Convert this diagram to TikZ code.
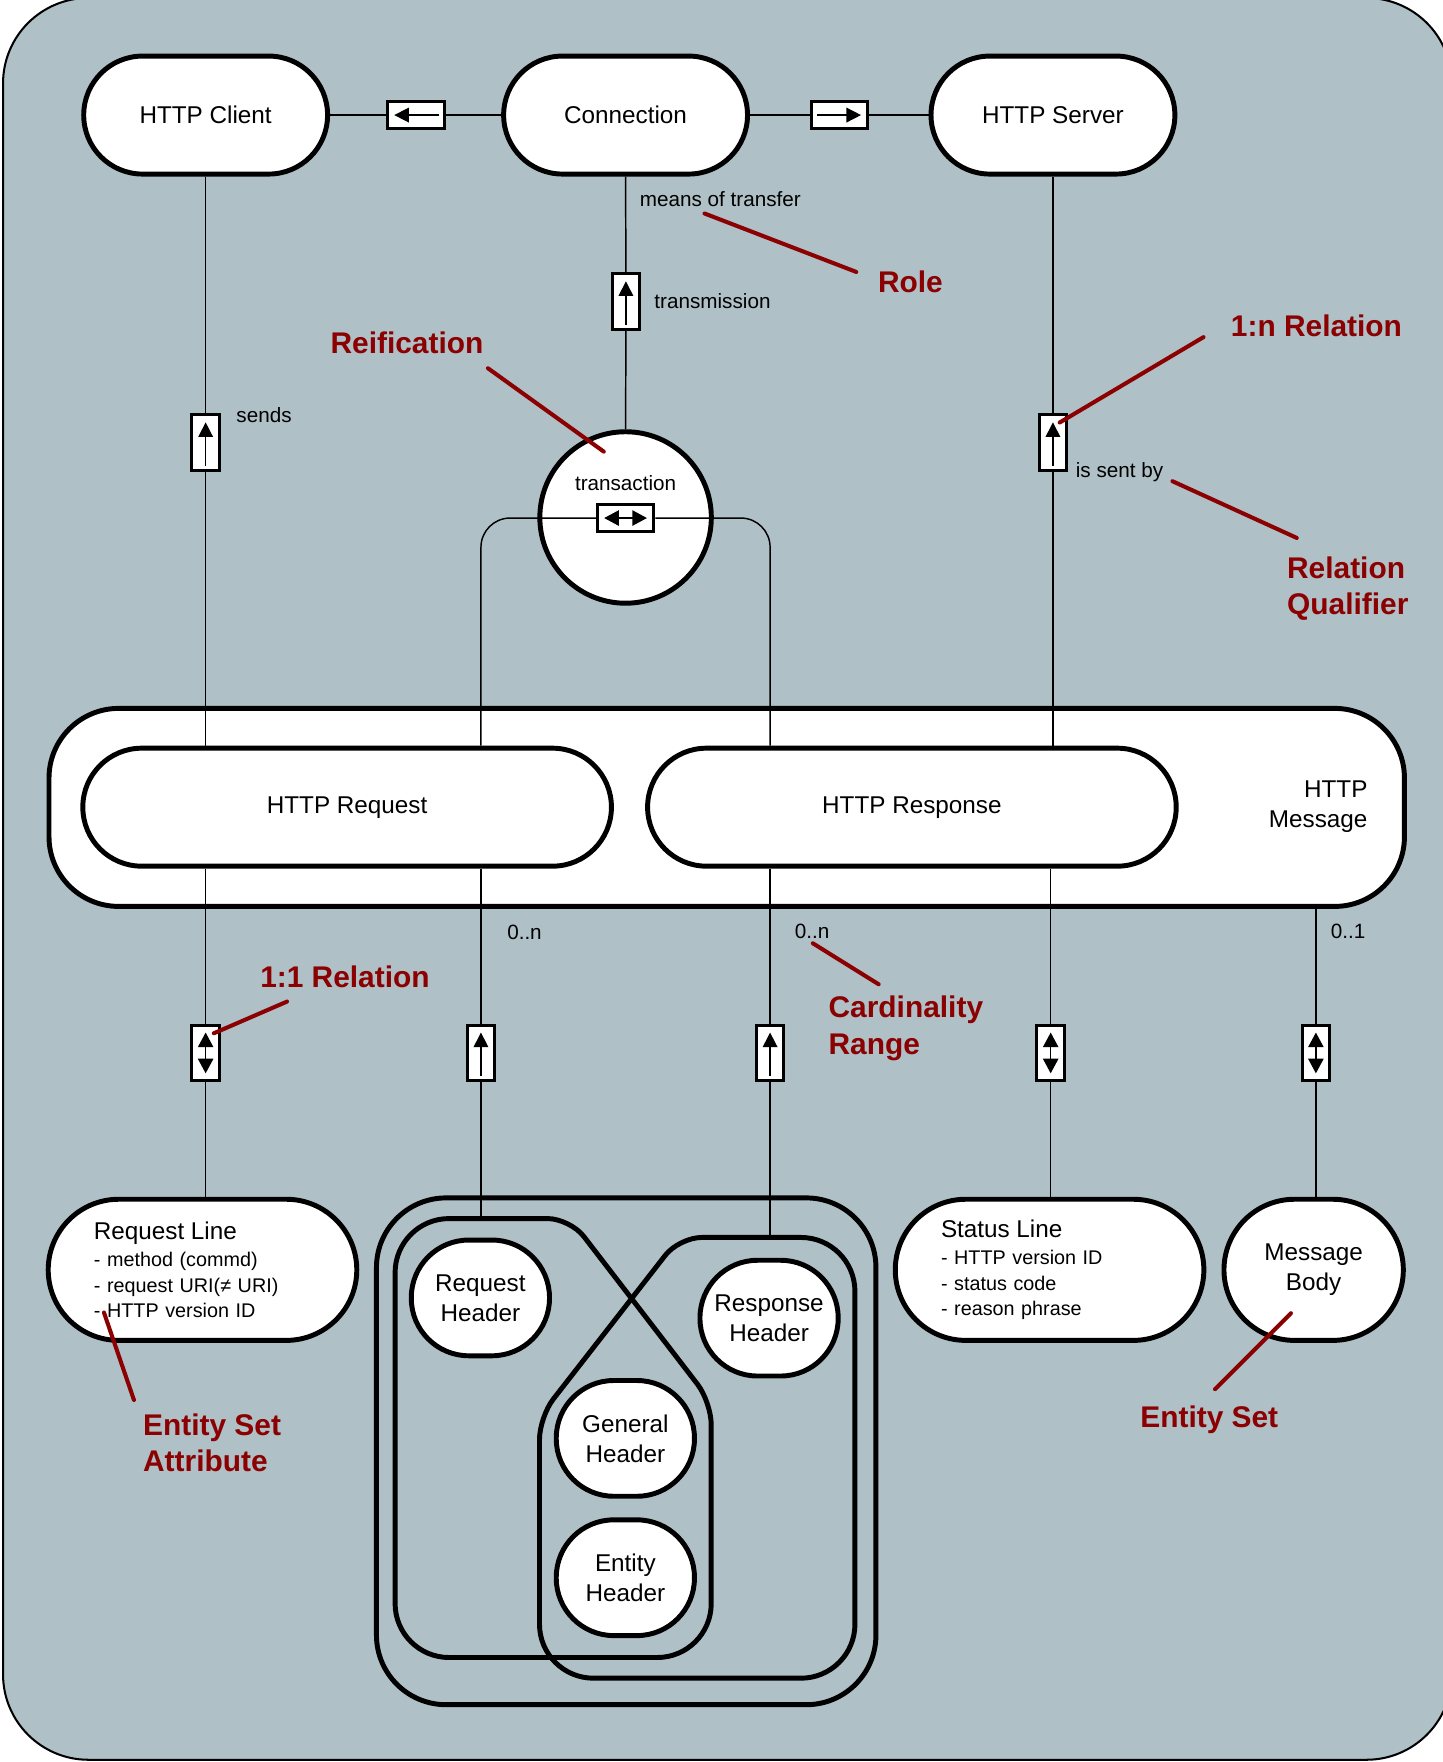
\documentclass[tikz,border=0pt]{standalone}
\usepackage{fontspec}
\setmainfont{Liberation Sans}
\usetikzlibrary{arrows.meta,calc}
\definecolor{bgc}{RGB}{175,192,199}
\definecolor{annot}{RGB}{139,0,0}
\begin{document}
\begin{tikzpicture}[x=0.5pt,y=-0.5pt,
  ent/.style={draw, line width=2.2pt, fill=white, rounded corners=26.2pt,
    minimum width=108.5pt, minimum height=52.5pt, inner sep=0pt, align=center,
    font=\fontsize{10.8}{13.4}\selectfont},
  hdr/.style={draw, line width=2.2pt, fill=white, rounded corners=25.6pt,
    minimum width=61.5pt, minimum height=51.5pt, inner sep=0pt, align=center,
    font=\fontsize{10.8}{13.4}\selectfont},
  attrbox/.style={ent, minimum width=137.3pt, minimum height=62.8pt, rounded corners=31.4pt,
    text width=96.6pt, inner xsep=20.35pt, inner ysep=0pt, align=left,
    font=\fontsize{8.8}{11.2}\selectfont},
  hbox/.style={draw, line width=1.35pt, fill=white, minimum width=25.2pt, minimum height=12.3pt, inner sep=0pt},
  vbox/.style={draw, line width=1.35pt, fill=white, minimum width=12.3pt, minimum height=24.8pt, inner sep=0pt},
  grp/.style={draw, line width=2.2pt},
  wire/.style={draw, line width=0.65pt},
  arr/.style={line width=0.65pt, -{Triangle[length=6.5pt,width=6.5pt]}},
  darr/.style={line width=0.65pt, {Triangle[length=6.5pt,width=6.8pt]}-{Triangle[length=6.5pt,width=6.8pt]}},
  lbl/.style={inner sep=0pt, font=\fontsize{9.2}{11}\selectfont},
  note/.style={inner sep=0pt, text=annot, align=left, font=\bfseries\fontsize{13.3}{16.2}\selectfont},
  nline/.style={draw=annot, line width=1.8pt, line cap=round}]
\useasboundingbox (0,0) rectangle (1284,1568);
% background
\draw[fill=bgc, line width=0.9pt, rounded corners=38pt] (2.7,-1.8) rectangle (1292,1566);

% HTTP Message container
\node[ent, minimum width=603.1pt, minimum height=88.1pt, rounded corners=31pt] (msg) at (646.7,718.5) {};
\node[anchor=east, align=right, inner sep=0pt, font=\fontsize{10.8}{13.4}\selectfont] (msgl) at (1217.3,718) {HTTP\\Message};

% top entities
\node[ent] (client) at (183,102.4) {HTTP Client};
\node[ent] (conn) at (556.7,102.4) {Connection};
\node[ent] (server) at (937,102.4) {HTTP Server};

\node[hbox] (bCC) at (370.4,102.4) {};
\node[hbox] (bCS) at (747,102.4) {};
\node[vbox] (bTr) at (557,268.5) {};
\node[vbox] (bSends) at (183,394) {};
\node[vbox] (bSent) at (937,394) {};

% transaction
\node[circle, draw, line width=2.2pt, fill=white, minimum size=76.3pt, inner sep=0pt] (trans) at (556.7,460.5) {};
\node[lbl] (transl) at (556.7,430) {transaction};
\node[hbox] (bTx) at (556.7,461) {};

% request / response
\node[ent, minimum width=235.2pt] (req) at (308.9,718.3) {HTTP Request};
\node[ent, minimum width=235.2pt] (resp) at (811.5,718.3) {HTTP Response};

% bottom boxes
\node[vbox] (b1) at (183,937) {};
\node[vbox] (b2) at (428,937) {};
\node[vbox] (b3) at (685.3,937) {};
\node[vbox] (b4) at (935,937) {};
\node[vbox] (b5) at (1171,937) {};

% bottom entities
\node[attrbox] (reqline) at (180.2,1130) {{\fontsize{10.8}{12}\selectfont Request Line}\\[0.8pt]- method (commd)\\- request URI(≠ URI)\\- HTTP version ID};
\node[attrbox] (statline) at (934,1130) {{\fontsize{10.8}{12}\selectfont Status Line}\\[0.8pt]- HTTP version ID\\- status code\\- reason phrase};
\node[ent, minimum width=79.8pt, minimum height=62.8pt, rounded corners=31.4pt] (body) at (1169,1130) {Message\\Body};

% header sets
\draw[grp, rounded corners=31pt] (335,1066) rectangle (779.5,1517);
\draw[grp] (351.6,1300) [rounded corners=24pt] -- (351.6,1084.4) [rounded corners=10pt] -- (507.3,1084.4) -- (632.9,1247.7) [rounded corners=24pt] -- (632.9,1475) -- (351.6,1475) -- cycle;
\draw[grp] (760.8,1300) [rounded corners=24pt] -- (760.8,1101.2) [rounded corners=10pt] -- (604.4,1101.2) -- (480.1,1260.8) [rounded corners=24pt] -- (480.1,1493.4) -- (760.8,1493.4) -- cycle;
\coordinate (gA) at (428,1084.4);
\coordinate (gB) at (685.3,1101.2);

\node[hdr] (reqh) at (427.5,1155) {Request\\Header};
\node[hdr] (resph) at (684.4,1173) {Response\\Header};
\node[hdr] (genh) at (556.5,1280) {General\\Header};
\node[hdr] (enth) at (556.5,1404) {Entity\\Header};

% connectors
\draw[wire] (client.east) -- (bCC.west);
\draw[wire] (bCC.east) -- (conn.west);
\draw[wire] (conn.east) -- (bCS.west);
\draw[wire] (bCS.east) -- (server.west);
\draw[wire] (conn.south) -- (bTr.north);
\draw[wire] (bTr.south) -- (trans.north);
\draw[wire] (client.south) -- (bSends.north);
\draw[wire] (bSends.south) -- (bSends.south |- req.north);
\draw[wire] (server.south) -- (bSent.north);
\draw[wire] (bSent.south) -- (bSent.south |- resp.north);
\draw[wire, rounded corners=13pt] (bTx.west) -| (gA |- req.north);
\draw[wire, rounded corners=13pt] (bTx.east) -| (gB |- resp.north);
\draw[wire] (b1.north |- req.south) -- (b1.north);
\draw[wire] (b1.south) -- (b1.south |- reqline.north);
\draw[wire] (gA |- req.south) -- (b2.north);
\draw[wire] (b2.south) -- (gA);
\draw[wire] (gB |- resp.south) -- (b3.north);
\draw[wire] (b3.south) -- (gB);
\draw[wire] (b4.north |- resp.south) -- (b4.north);
\draw[wire] (b4.south) -- (b4.south |- statline.north);
\draw[wire] (b5.north |- msg.south) -- (b5.north);
\draw[wire] (b5.south) -- (b5.south |- body.north);

% arrows inside boxes
\draw[arr] ($(bCC.east)+(-6,0)$) -- ($(bCC.west)+(7,0)$);
\draw[arr] ($(bCS.west)+(6.7,0)$) -- ($(bCS.east)+(-7.3,0)$);
\draw[darr] ($(bTx.west)+(7.5,0)$) -- ($(bTx.east)+(-7.5,0)$);
\draw[arr] ($(bTr.south)+(0,-5.5)$) -- ($(bTr.north)+(0,8)$);
\draw[arr] ($(bSends.south)+(0,-5.5)$) -- ($(bSends.north)+(0,8)$);
\draw[arr] ($(bSent.south)+(0,-5.5)$) -- ($(bSent.north)+(0,8)$);
\draw[arr] ($(b2.south)+(0,-5.5)$) -- ($(b2.north)+(0,8)$);
\draw[arr] ($(b3.south)+(0,-5.5)$) -- ($(b3.north)+(0,8)$);
\draw[darr] ($(b1.south)+(0,-8)$) -- ($(b1.north)+(0,8)$);
\draw[darr] ($(b4.south)+(0,-8)$) -- ($(b4.north)+(0,8)$);
\draw[darr] ($(b5.south)+(0,-8)$) -- ($(b5.north)+(0,8)$);

% labels
\node[lbl, anchor=west] (lmeans) at (569,177) {means of transfer};
\node[lbl, anchor=west] (ltrans) at (582,268) {transmission};
\node[lbl, anchor=west] (lsends) at (210,369) {sends};
\node[lbl, anchor=west] (lsent) at (957,420) {is sent by};
\node[lbl, anchor=west] (lcard1) at (451,830) {0..n};
\node[lbl, anchor=west] (lcard2) at (707,829) {0..n};
\node[lbl, anchor=west] (lcard3) at (1184,829) {0..1};

% annotations
\node[note, anchor=west] (nRole) at (781,251) {Role};
\node[note, anchor=west] (nReif) at (293.8,305.5) {Reification};
\node[note, anchor=west] (nOneN) at (1095,290) {1:n Relation};
\node[note, anchor=west] (nQual) at (1145,524) {Relation\\Qualifier};
\node[note, anchor=west] (nOneOne) at (231.2,869) {1:1 Relation};
\node[note, anchor=west] (nCard) at (737,915) {Cardinality\\Range};
\node[note, anchor=west] (nAttr) at (127,1284) {Entity Set\\Attribute};
\node[note, anchor=west] (nSet) at (1014.4,1263.6) {Entity Set};

\coordinate (aRole1) at (627,190);   \coordinate (aRole2) at (762,242);
\coordinate (aReif1) at (434.2,327.7); \coordinate (aReif2) at (537.3,401.9);
\coordinate (aOneN1) at (1071,300);  \coordinate (aOneN2) at (943,376);
\coordinate (aQual1) at (1043.3,428.2); \coordinate (aQual2) at (1154,478.7);
\coordinate (aOne1) at (255.4,891.3); \coordinate (aOne2) at (190.3,919.5);
\coordinate (aCard1) at (723.3,839.4); \coordinate (aCard2) at (781.9,875.9);
\coordinate (aAttr1) at (92.5,1168); \coordinate (aAttr2) at (119.2,1245.8);
\coordinate (aSet1) at (1148.8,1168.6); \coordinate (aSet2) at (1081.2,1236.2);
\draw[nline] (aRole1) -- (aRole2);
\draw[nline] (aReif1) -- (aReif2);
\draw[nline] (aOneN1) -- (aOneN2);
\draw[nline] (aQual1) -- (aQual2);
\draw[nline] (aOne1) -- (aOne2);
\draw[nline] (aCard1) -- (aCard2);
\draw[nline] (aAttr1) -- (aAttr2);
\draw[nline] (aSet1) -- (aSet2);
\end{tikzpicture}
\end{document}
